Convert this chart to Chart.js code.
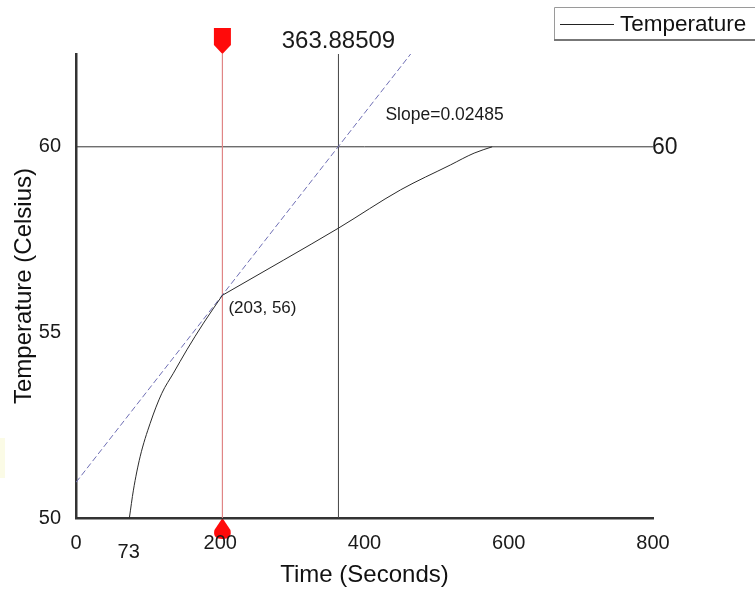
<!DOCTYPE html>
<html>
<head>
<meta charset="utf-8">
<script src="https://cdn.jsdelivr.net/npm/chart.js@4/dist/chart.umd.min.js"></script>
<style>
html,body{margin:0;padding:0;background:#fff;overflow:hidden;}
#wrap{width:755px;height:594px;position:relative;}
canvas{display:block;}
</style>
</head>
<body>
<div id="wrap"><canvas id="c" width="755" height="594"></canvas></div>
<script>
// ---- data ----
const tempTime  = [74, 79.6, 88.9, 102.8, 119, 135, 153.7, 176.8, 203, 288, 364, 450, 519, 552, 577];
const tempValue = [50, 50.75, 51.65, 52.55, 53.36, 53.9, 54.53, 55.25, 56, 56.95, 57.81, 58.84, 59.51, 59.83, 60];
const tangentTime  = [0, 464];
const tangentValue = [50.96, 62.5];
const markTime = 203;
const markTemp = 56;
const crossTime = 363.88509;
const targetTemp = 60;
const startTime = 73;
const slopeLabel = 'Slope=0.02485';
const slopeLabelAt = [429, 60.84];
const xMin = 0, xMax = 800, xStep = 200;
const yMin = 50, yMax = 62.5, yStep = 5;
const seriesName = 'Temperature';

const FONT = "'Liberation Sans', Arial, sans-serif";
const TEXT = '#1a1a1a';

const pts = (xs, ys) => xs.map((x, i) => ({x, y: ys[i]}));
const tempPts = pts(tempTime, tempValue);
const kinkIdx = tempTime.indexOf(markTime);

const overlay = {
  id: 'overlay',
  beforeDraw(chart) {
    const {ctx} = chart;
    ctx.save();
    ctx.fillStyle = '#ffffff';
    ctx.fillRect(0, 0, chart.width, chart.height);
    ctx.fillStyle = '#fbfbe6';
    ctx.fillRect(0, 438, 5, 40);
    // bottom marker (drawn beneath tick labels)
    const x = chart.scales.x.getPixelForValue(markTime);
    const yb = chart.scales.y.getPixelForValue(yMin);
    ctx.fillStyle = '#ff0a0a';
    ctx.beginPath();
    ctx.moveTo(x, yb);
    ctx.lineTo(x + 8, yb + 12);
    ctx.quadraticCurveTo(x + 10, yb + 21, x, yb + 21);
    ctx.quadraticCurveTo(x - 10, yb + 21, x - 8, yb + 12);
    ctx.closePath();
    ctx.fill();
    ctx.restore();
  },
  afterDraw(chart) {
    const {ctx, chartArea} = chart;
    const xs = chart.scales.x, ys = chart.scales.y;
    ctx.save();
    // top marker
    const mx = xs.getPixelForValue(markTime);
    const yt = ys.getPixelForValue(yMax);
    ctx.fillStyle = '#ff0a0a';
    ctx.beginPath();
    ctx.moveTo(mx - 8.5, yt - 26);
    ctx.lineTo(mx + 8.5, yt - 26);
    ctx.lineTo(mx + 8.5, yt - 9);
    ctx.lineTo(mx, yt);
    ctx.lineTo(mx - 8.5, yt - 9);
    ctx.closePath();
    ctx.fill();

    ctx.fillStyle = TEXT;
    ctx.textBaseline = 'middle';
    // crossing value label
    ctx.font = '24px ' + FONT;
    ctx.textAlign = 'center';
    ctx.fillText(String(crossTime), xs.getPixelForValue(crossTime), yt - 13);
    // target label
    ctx.font = '23px ' + FONT;
    ctx.textAlign = 'left';
    ctx.fillText(String(targetTemp), chartArea.right - 1, ys.getPixelForValue(targetTemp) + 1);
    // slope label
    ctx.font = '17.5px ' + FONT;
    ctx.fillText(slopeLabel, xs.getPixelForValue(slopeLabelAt[0]), ys.getPixelForValue(slopeLabelAt[1]));
    // point label
    ctx.font = '17px ' + FONT;
    ctx.fillText('(' + markTime + ', ' + markTemp + ')', xs.getPixelForValue(markTime) + 6, ys.getPixelForValue(markTemp) + 13);
    // start label
    ctx.font = '20px ' + FONT;
    ctx.textAlign = 'center';
    ctx.fillText(String(startTime), xs.getPixelForValue(startTime), ys.getPixelForValue(yMin) + 34);

    // legend
    ctx.strokeStyle = '#9a9a9a';
    ctx.lineWidth = 1;
    ctx.beginPath();
    ctx.moveTo(770, 7.5); ctx.lineTo(554.5, 7.5); ctx.lineTo(554.5, 40);
    ctx.stroke();
    ctx.strokeStyle = '#777';
    ctx.lineWidth = 2;
    ctx.beginPath();
    ctx.moveTo(554, 40); ctx.lineTo(770, 40);
    ctx.stroke();
    ctx.strokeStyle = '#222';
    ctx.lineWidth = 1;
    ctx.beginPath();
    ctx.moveTo(560, 24.5); ctx.lineTo(614, 24.5);
    ctx.stroke();
    ctx.fillStyle = '#111';
    ctx.font = '22.5px ' + FONT;
    ctx.textAlign = 'left';
    ctx.fillText(seriesName, 620, 25);
    ctx.restore();
  }
};

const curveStyle = {
  borderColor: '#2b2b2b',
  borderWidth: 1,
  pointRadius: 0,
  cubicInterpolationMode: 'monotone'
};

new Chart(document.getElementById('c'), {
  type: 'line',
  data: {
    datasets: [
      Object.assign({label: seriesName, data: tempPts.slice(0, kinkIdx + 1)}, curveStyle),
      Object.assign({label: seriesName + ' (after tangent point)', data: tempPts.slice(kinkIdx)}, curveStyle),
      {
        label: 'Tangent',
        data: pts(tangentTime, tangentValue),
        borderColor: '#6f6fb5',
        borderWidth: 1,
        borderDash: [6, 3],
        pointRadius: 0
      },
      {
        label: 'Marker',
        data: pts([markTime, markTime], [yMin, yMax]),
        borderColor: '#e08585',
        borderWidth: 1.2,
        pointRadius: 0
      },
      {
        label: 'Crossing',
        data: pts([crossTime, crossTime], [yMin, yMax]),
        borderColor: '#444',
        borderWidth: 1,
        pointRadius: 0
      },
      {
        label: 'Target',
        data: pts([xMin, xMax], [targetTemp, targetTemp]),
        borderColor: '#333',
        borderWidth: 1,
        pointRadius: 0
      }
    ]
  },
  options: {
    responsive: false,
    animation: false,
    devicePixelRatio: 1,
    layout: {padding: {top: 54, right: 102, left: 0, bottom: 0}},
    plugins: {legend: {display: false}, tooltip: {enabled: false}},
    scales: {
      x: {
        type: 'linear', min: xMin, max: xMax,
        ticks: {stepSize: xStep, padding: 13, color: TEXT, font: {family: FONT, size: 20}},
        grid: {display: false, drawTicks: false},
        border: {display: true, color: '#333', width: 2.5},
        title: {display: true, text: 'Time (Seconds)', color: '#111', font: {family: FONT, size: 24}, padding: {top: 0, bottom: 4}},
        afterFit(s) { s.height = 76; }
      },
      y: {
        type: 'linear', min: yMin, max: yMax,
        ticks: {stepSize: yStep, includeBounds: false, padding: 15, color: TEXT, font: {family: FONT, size: 20}},
        grid: {display: false, drawTicks: false},
        border: {display: true, color: '#333', width: 2.5},
        title: {display: true, text: 'Temperature (Celsius)', color: '#111', font: {family: FONT, size: 24}, padding: {top: 10, bottom: 0}},
        afterFit(s) { s.width = 76; }
      }
    }
  },
  plugins: [overlay]
});
</script>
</body>
</html>
